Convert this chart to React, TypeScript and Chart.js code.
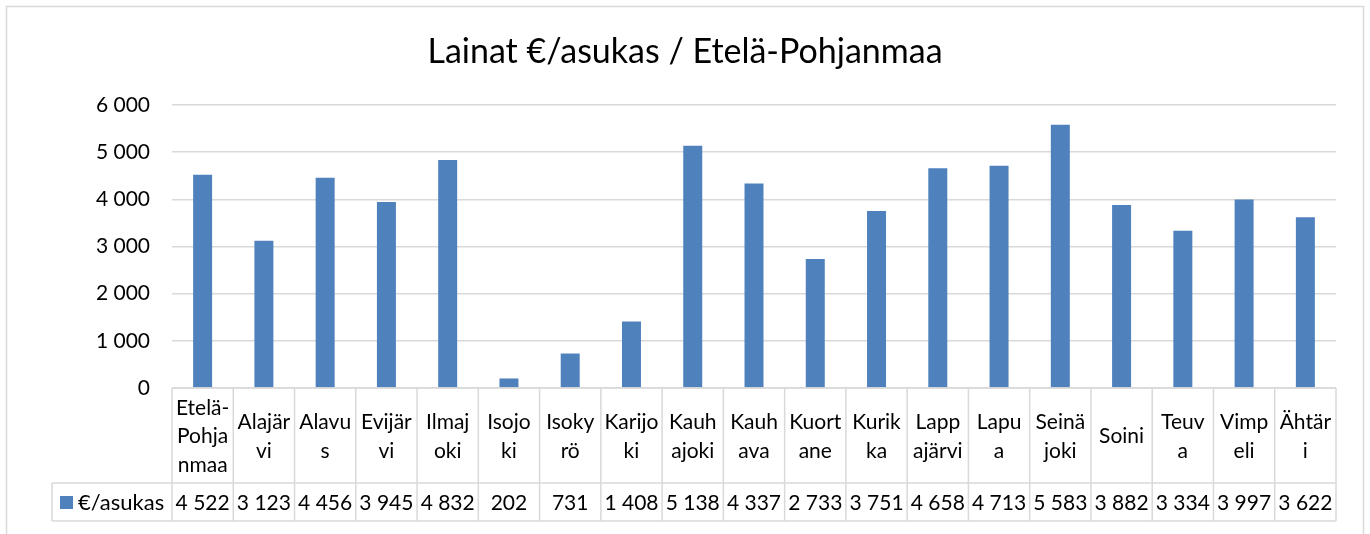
import React, { useEffect, useRef } from "react";
import { Chart, registerables } from "chart.js";

Chart.register(...registerables);

const TITLE = "Lainat €/asukas / Etelä-Pohjanmaa";
const SERIES_NAME = "€/asukas";
const CATEGORIES = [
  "Etelä-Pohjanmaa", "Alajärvi", "Alavus", "Evijärvi", "Ilmajoki", "Isojoki", "Isokyrö",
  "Karijoki", "Kauhajoki", "Kauhava", "Kuortane", "Kurikka", "Lappajärvi", "Lapua",
  "Seinäjoki", "Soini", "Teuva", "Vimpeli", "Ähtäri",
];
const CATEGORY_LINES = [
  ["Etelä-", "Pohja", "nmaa"], ["Alajär", "vi"], ["Alavu", "s"], ["Evijär", "vi"], ["Ilmaj", "oki"],
  ["Isojo", "ki"], ["Isoky", "rö"], ["Karijo", "ki"], ["Kauh", "ajoki"], ["Kauh", "ava"],
  ["Kuort", "ane"], ["Kurik", "ka"], ["Lapp", "ajärvi"], ["Lapu", "a"], ["Seinä", "joki"],
  ["Soini"], ["Teuv", "a"], ["Vimp", "eli"], ["Ähtär", "i"],
];
const VALUES = [4522, 3123, 4456, 3945, 4832, 202, 731, 1408, 5138, 4337, 2733, 3751, 4658, 4713, 5583, 3882, 3334, 3997, 3622];
const Y_MIN = 0;
const Y_MAX = 6000;
const Y_STEP = 1000;

const BAR_COLOR = "#4F81BD";
const LINE_COLOR = "#D9D9D9";
const FONT = "Lato, 'Noto Sans', sans-serif";

const fmt = (v: number) => String(v).replace(/\B(?=(\d{3})+(?!\d))/g, " ");

const tablePlugin = {
  id: "excelTable",
  afterDraw(chart: any) {
    const ctx = chart.ctx as CanvasRenderingContext2D;
    const area = chart.chartArea;
    const xs = chart.scales.x;
    const n = CATEGORIES.length;
    const step = (area.right - area.left) / n;
    ctx.save();
    // outer frame
    ctx.strokeStyle = LINE_COLOR;
    ctx.lineWidth = 1.5;
    ctx.strokeRect(6.5, 6.5, 1357, 560);

    // title
    ctx.fillStyle = "#000";
    ctx.font = `34px ${FONT}`;
    ctx.textAlign = "center";
    ctx.textBaseline = "middle";
    ctx.fillText(TITLE, 685, 52);

    const headTop = area.bottom;
    const headBottom = 483;
    const rowBottom = 521;
    const legendLeft = 52;

    ctx.strokeStyle = LINE_COLOR;
    ctx.lineWidth = 1.5;
    ctx.beginPath();
    ctx.moveTo(area.left, headTop);
    ctx.lineTo(area.right, headTop);
    ctx.moveTo(legendLeft, headBottom);
    ctx.lineTo(area.right, headBottom);
    ctx.moveTo(legendLeft, rowBottom);
    ctx.lineTo(area.right, rowBottom);
    ctx.moveTo(legendLeft, headBottom);
    ctx.lineTo(legendLeft, rowBottom);
    for (let i = 0; i <= n; i++) {
      const x = i < n ? xs.getPixelForValue(i) - step / 2 : xs.getPixelForValue(n - 1) + step / 2;
      ctx.moveTo(x, headTop);
      ctx.lineTo(x, rowBottom);
    }
    ctx.stroke();

    ctx.fillStyle = "#000";
    ctx.font = `21px ${FONT}`;
    ctx.textAlign = "center";
    ctx.textBaseline = "middle";
    const lh = 28.5;
    const headMid = (headTop + headBottom) / 2 + 1;
    const rowMid = (headBottom + rowBottom) / 2 + 1;
    CATEGORY_LINES.forEach((lines, i) => {
      const cx = xs.getPixelForValue(i);
      const start = headMid - ((lines.length - 1) * lh) / 2;
      lines.forEach((t, k) => ctx.fillText(t, cx, start + k * lh));
      ctx.fillText(fmt(VALUES[i]), cx, rowMid);
    });

    // legend key
    ctx.fillStyle = BAR_COLOR;
    ctx.fillRect(60, 496, 13, 13);
    ctx.fillStyle = "#000";
    ctx.textAlign = "left";
    ctx.font = `22px ${FONT}`;
    ctx.fillText(SERIES_NAME, 78, rowMid);
    ctx.restore();
  },
};

export default function App() {
  const ref = useRef<HTMLCanvasElement>(null);
  useEffect(() => {
    document.body.style.margin = "0";
    const chart = new Chart(ref.current!, {
      type: "bar",
      data: {
        labels: CATEGORIES,
        datasets: [
          {
            label: SERIES_NAME,
            data: VALUES,
            backgroundColor: BAR_COLOR,
            barPercentage: 0.31,
            categoryPercentage: 1,
          },
        ],
      },
      options: {
        animation: false,
        responsive: false,
        layout: { padding: { left: 0, right: 34, top: 105, bottom: 146 } },
        plugins: { legend: { display: false }, title: { display: false }, tooltip: { enabled: false } },
        scales: {
          x: { display: false },
          y: {
            min: Y_MIN,
            max: Y_MAX,
            ticks: {
              stepSize: Y_STEP,
              padding: 22,
              color: "#000",
              font: { family: FONT, size: 21 },
              callback: (v: any) => fmt(Number(v)),
            },
            grid: { color: LINE_COLOR, lineWidth: 1.5, drawTicks: false },
            border: { display: false },
            afterFit: (s: any) => {
              s.width = 172;
            },
          },
        },
      },
      plugins: [tablePlugin],
    });
    return () => chart.destroy();
  }, []);
  return <canvas ref={ref} width={1370} height={534} style={{ display: "block" }} />;
}
